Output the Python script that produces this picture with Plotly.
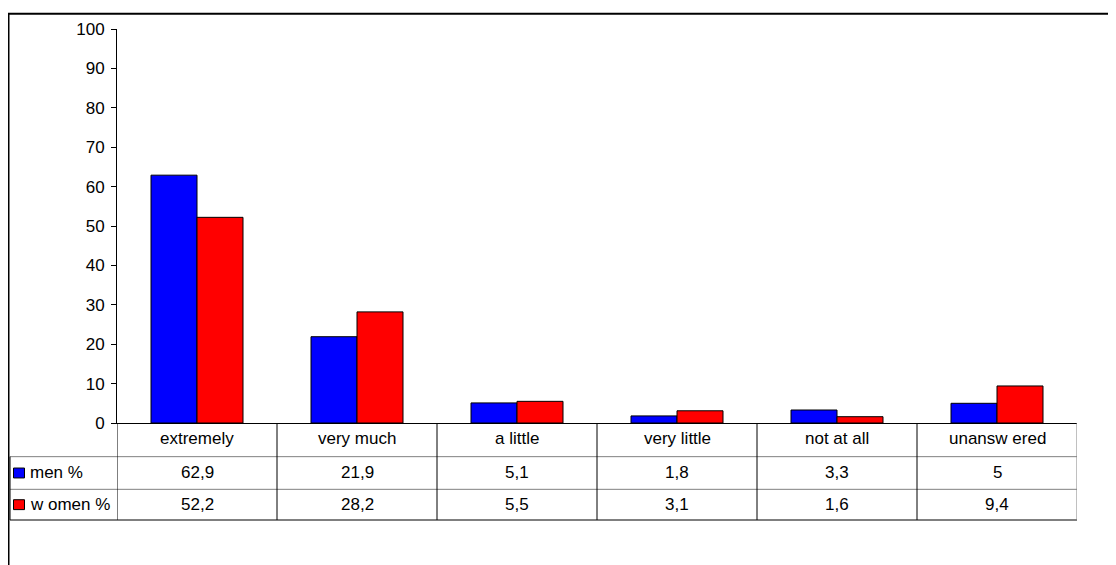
import plotly.graph_objects as go

categories = ["extremely", "very much", "a little", "very little", "not at all", "unansw ered"]
men = [62.9, 21.9, 5.1, 1.8, 3.3, 5.0]
women = [52.2, 28.2, 5.5, 3.1, 1.6, 9.4]
series_names = ["men %", "w omen %"]
y_ticks = [0, 10, 20, 30, 40, 50, 60, 70, 80, 90, 100]

OFF = 8  # page body margin
W, H = 1116 - OFF, 565 - OFF
# screen-pixel positions of plot area
SL, SR, ST, SB = 117, 1077, 25, 423
ML, MR, MT, MB = SL - OFF, W - (SR - OFF), ST - OFF, H - (SB - OFF)
PH = H - MT - MB
PW = W - ML - MR
FONT = "Liberation Sans, Arial, sans-serif"
FS = 17


def py(pix):
    return (SB - pix) / PH


def px(pix):
    return (pix - SL) / PW


def fmt(v):
    return f"{v:g}".replace(".", ",")


fig = go.Figure()
fig.add_trace(go.Bar(x=categories, y=men, name=series_names[0],
                     marker=dict(color="#0000FF", line=dict(color="black", width=1))))
fig.add_trace(go.Bar(x=categories, y=women, name=series_names[1],
                     marker=dict(color="#FF0000", line=dict(color="black", width=1))))

shapes = []
annotations = []
n = len(categories)
row_lines = [457, 490, 521]
for i, yl in enumerate(row_lines):
    shapes.append(dict(type="line", xref="paper", yref="paper", x0=px(10), x1=1.0,
                       y0=py(yl), y1=py(yl),
                       line=dict(color="#000000" if i == 2 else "#808080", width=1)))
for k in range(n + 1):
    shapes.append(dict(type="line", xref="x", yref="paper", x0=k - 0.5, x1=k - 0.5,
                       y0=0, y1=py(521),
                       line=dict(color="#808080" if k == n else "#000000", width=1)))
shapes.append(dict(type="line", xref="paper", yref="paper", x0=px(10), x1=px(10),
                   y0=py(457), y1=py(521), line=dict(color="#000000", width=1)))
# outer chart border (top and left)
shapes.append(dict(type="line", xref="paper", yref="paper", x0=px(8), x1=px(1120),
                   y0=py(9.5), y1=py(9.5), line=dict(color="#000000", width=2)))
shapes.append(dict(type="line", xref="paper", yref="paper", x0=px(8.5), x1=px(8.5),
                   y0=py(9), y1=py(570), line=dict(color="#000000", width=2)))

for c in categories:
    annotations.append(dict(x=c, y=py(439), xref="x", yref="paper", text=c, showarrow=False,
                            font=dict(family=FONT, size=FS, color="black"),
                            xanchor="center", yanchor="middle"))
row_centers = [473.5, 505.5]
colors = ["#0000FF", "#FF0000"]
for r, (vals, name) in enumerate(zip([men, women], series_names)):
    yc = row_centers[r]
    for c, v in zip(categories, vals):
        annotations.append(dict(x=c, y=py(yc), xref="x", yref="paper", text=fmt(v),
                                showarrow=False, font=dict(family=FONT, size=FS, color="black"),
                                xanchor="center", yanchor="middle"))
    annotations.append(dict(x=px(28), y=py(yc), xref="paper", yref="paper", text=name,
                            showarrow=False, font=dict(family=FONT, size=FS, color="black"),
                            xanchor="left", yanchor="middle"))
    shapes.append(dict(type="rect", xref="paper", yref="paper", x0=px(13.5), x1=px(24.5),
                       y0=py(yc + 5), y1=py(yc - 5), fillcolor=colors[r],
                       line=dict(color="black", width=1)))

fig.update_layout(
    width=W, height=H,
    margin=dict(l=ML, r=MR, t=MT, b=MB, pad=0),
    paper_bgcolor="white", plot_bgcolor="white",
    barmode="group", bargap=0.425, bargroupgap=0,
    showlegend=False,
    font=dict(family=FONT, size=FS, color="black"),
    xaxis=dict(range=[-0.5, n - 0.5], showticklabels=False, ticks="", showline=True,
               linecolor="black", linewidth=1, showgrid=False, zeroline=False, fixedrange=True),
    yaxis=dict(range=[0, 100], tickvals=y_ticks, ticks="outside", ticklen=5, tickcolor="black",
               showline=True, linecolor="black", linewidth=1, showgrid=False, zeroline=False,
               tickfont=dict(family=FONT, size=FS, color="black"), ticklabelstandoff=3),
    shapes=shapes,
    annotations=annotations,
)

fig.write_html("out.html")
